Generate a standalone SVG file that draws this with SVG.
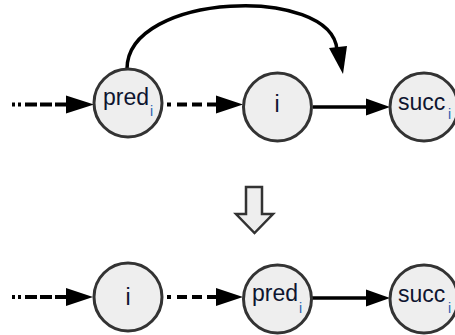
<svg xmlns="http://www.w3.org/2000/svg" width="455" height="335" viewBox="0 0 455 335">
<style>
.node circle{fill:#eeeeee;stroke:#333333;stroke-width:3}
.lbl{font-family:"Liberation Sans",Arial,sans-serif;font-size:23px;fill:#0e1530}
.sub{font-family:"Liberation Sans",Arial,sans-serif;font-size:14px;fill:#2a5db0}
.edge{fill:none;stroke:#000;stroke-width:3.5}
.dash{fill:none;stroke:#000;stroke-width:4}
.head{fill:#000;stroke:none}
.big{fill:#eeeeee;stroke:#333333;stroke-width:2.5;stroke-linejoin:miter}
</style>
<g id="connectors">
  <path class="dash" d="M12,104.5 H68" stroke-dasharray="3 3 3 4 12 3 12 3 14"/>
  <polygon class="head" points="66,95.5 94,104.5 66,113.5"/>
  <path class="dash" d="M167,104.5 H218" stroke-dasharray="4 6 10 5 10 5 11"/>
  <polygon class="head" points="216,95.5 243,104.5 216,113.5"/>
  <path class="edge" d="M313,107 H369"/>
  <polygon class="head" points="366,98.5 390,107 366,115.5"/>
  <path class="edge" d="M127,69 C127,-8 332,-15 337,50"/>
  <polygon class="head" points="329,48 347,46 343,74"/>
  <path class="dash" d="M12,297 H68" stroke-dasharray="3 3 3 4 12 3 12 3 14"/>
  <polygon class="head" points="66,288 93,297 66,306"/>
  <path class="dash" d="M167,297 H218" stroke-dasharray="4 6 10 5 10 5 11"/>
  <polygon class="head" points="216,288 243,297 216,306"/>
  <path class="edge" d="M312,298 H369"/>
  <polygon class="head" points="366,289.5 390,298 366,306.5"/>
  <polygon class="big" points="246,187 262,187 262,214 273,214 254.5,233 236,214 246,214"/>
</g>
<g id="node-pred-top" class="node">
  <circle cx="128" cy="103" r="34"/>
  <text class="lbl" x="103" y="105">pred</text>
  <text class="sub" x="150" y="116">i</text>
</g>
<g id="node-i-top" class="node">
  <circle cx="277.5" cy="107" r="34"/>
  <text class="lbl" x="277" y="112" text-anchor="middle">i</text>
</g>
<g id="node-succ-top" class="node">
  <circle cx="424" cy="107" r="34"/>
  <text class="lbl" x="398" y="110">succ</text>
  <text class="sub" x="448" y="119">i</text>
</g>
<g id="node-i-bottom" class="node">
  <circle cx="128" cy="297" r="34"/>
  <text class="lbl" x="128" y="305" text-anchor="middle">i</text>
</g>
<g id="node-pred-bottom" class="node">
  <circle cx="277.5" cy="299" r="34"/>
  <text class="lbl" x="252" y="301">pred</text>
  <text class="sub" x="299" y="313">i</text>
</g>
<g id="node-succ-bottom" class="node">
  <circle cx="424" cy="299" r="34"/>
  <text class="lbl" x="398" y="302">succ</text>
  <text class="sub" x="448" y="313">i</text>
</g>
</svg>
